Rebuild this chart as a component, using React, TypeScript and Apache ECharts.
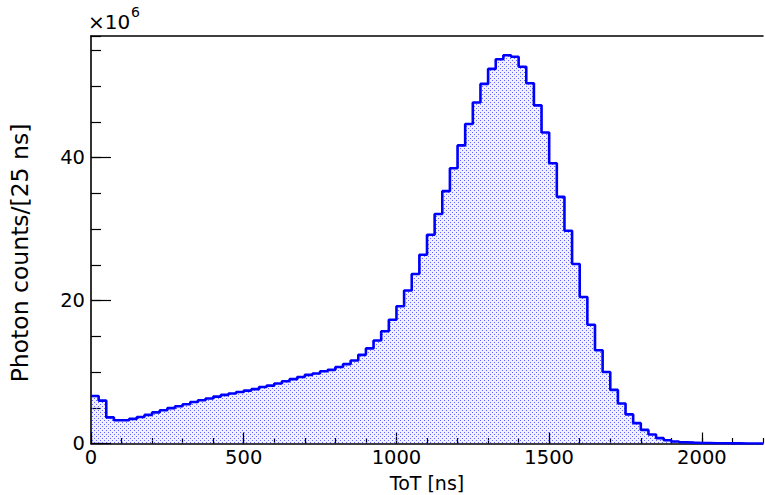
import React, { useEffect, useRef } from "react";
import * as echarts from "echarts";

const BIN_WIDTH = 25; // ns
const X_MAX = 2200;
const Y_MAX = 57;

// Photon counts per 25 ns bin, in units of 10^6
const binsLow = [6.65, 6.0, 3.65, 3.25, 3.25, 3.45, 3.7, 4.0, 4.35, 4.65, 4.95, 5.2, 5.5, 5.8, 6.05, 6.3];
const binsMid = [6.55, 6.8, 7.0, 7.2, 7.4, 7.6, 7.9, 8.1, 8.4, 8.7, 9.0, 9.3, 9.6, 9.8, 10.1, 10.3, 10.7, 11.1, 11.6, 12.4];
const binsRise = [13.3, 14.4, 15.7, 17.3, 19.2, 21.4, 23.7, 26.4, 29.2, 32.1, 35.3, 38.5];
const binsPeak = [41.7, 44.7, 47.7, 50.3, 52.4, 53.75, 54.3, 54.1, 52.7, 50.4, 47.3, 43.5];
const binsFall = [39.2, 34.5, 29.75, 25.1, 20.5, 16.6, 13.05, 10.0, 7.5, 5.6, 4.07, 2.85];
const binsTail = [1.9, 1.26, 0.75, 0.45, 0.28, 0.18, 0.12, 0.08, 0.06, 0.04, 0.03, 0.02, 0.015, 0.01, 0.01, 0.01];

const yTickLabels = [0, 20, 40];
const xTickLabels = [0, 500, 1000, 1500, 2000];

const TICK_FONT = "'DejaVu Sans', 'Liberation Sans', sans-serif";

function makePattern(): HTMLCanvasElement {
  const c = document.createElement("canvas");
  c.width = 4;
  c.height = 4;
  const ctx = c.getContext("2d")!;
  ctx.fillStyle = "rgba(0,0,255,0.06)";
  ctx.fillRect(0, 0, 4, 4);
  ctx.fillStyle = "rgba(80,80,255,0.9)";
  const pts = [
    [0, 0],
    [2, 2],
  ];
  pts.forEach(([x, y]) => ctx.fillRect(x, y, 1, 1));
  return c;
}

export default function App() {
  const ref = useRef<HTMLDivElement>(null);

  useEffect(() => {
    if (!ref.current) return;
    const chart = echarts.init(ref.current, undefined, { renderer: "svg" });
    const bins = [...binsLow, ...binsMid, ...binsRise, ...binsPeak, ...binsFall, ...binsTail];
    const stepData: number[][] = bins.map((v, i) => [i * BIN_WIDTH, v]);
    stepData.push([bins.length * BIN_WIDTH, bins[bins.length - 1]]);

    const grid = { left: 91, right: 2, top: 36, bottom: 51.5 };
    const axisLineStyle = { color: "#000", width: 1.6 };

    chart.setOption({
      animation: false,
      backgroundColor: "#fff",
      grid,
      xAxis: [
        {
          type: "value",
          min: 0,
          max: X_MAX,
          interval: 500,
          position: "bottom",
          axisLine: { show: true, onZero: false, lineStyle: axisLineStyle },
          axisTick: { show: true, inside: true, length: 11, lineStyle: { color: "#000", width: 1.2 } },
          axisLabel: {
            color: "#000",
            fontFamily: TICK_FONT,
            fontSize: 19.5,
            margin: 4,
            showMaxLabel: false,
            formatter: (v: number) => (xTickLabels.includes(v) ? String(v) : ""),
          },
          splitLine: { show: false },
        },
        {
          type: "value",
          min: 0,
          max: X_MAX,
          interval: 100,
          position: "bottom",
          axisLine: { show: false },
          axisTick: { show: true, inside: true, length: 5.5, lineStyle: { color: "#000", width: 1.2 } },
          axisLabel: { show: false },
          splitLine: { show: false },
        },
        {
          type: "value",
          min: 0,
          max: X_MAX,
          position: "top",
          axisLine: { show: true, onZero: false, lineStyle: axisLineStyle },
          axisTick: { show: false },
          axisLabel: { show: false },
          splitLine: { show: false },
        },
      ],
      yAxis: [
        {
          type: "value",
          min: 0,
          max: Y_MAX,
          interval: 20,
          position: "left",
          axisLine: { show: true, onZero: false, lineStyle: axisLineStyle },
          axisTick: { show: true, inside: true, length: 20, lineStyle: { color: "#000", width: 1.2 } },
          axisLabel: {
            color: "#000",
            fontFamily: TICK_FONT,
            fontSize: 19.5,
            margin: 6,
            showMaxLabel: false,
            formatter: (v: number) => (yTickLabels.includes(v) ? String(v) : ""),
          },
          splitLine: { show: false },
        },
        {
          type: "value",
          min: 0,
          max: Y_MAX,
          interval: 5,
          position: "left",
          axisLine: { show: false },
          axisTick: { show: true, inside: true, length: 10, lineStyle: { color: "#000", width: 1.2 } },
          axisLabel: { show: false },
          splitLine: { show: false },
        },
      ],
      series: [
        {
          type: "line",
          xAxisIndex: 0,
          yAxisIndex: 0,
          data: stepData,
          step: "end",
          symbol: "none",
          lineStyle: { color: "#0000ff", width: 2.6 },
          areaStyle: {
            origin: "start",
            color: { image: makePattern(), repeat: "repeat" },
            opacity: 1,
          },
          z: 1,
        },
      ],
      graphic: [
        {
          type: "text",
          left: 88,
          top: 12,
          style: { text: "×10", font: `20px ${TICK_FONT}`, fill: "#000" },
        },
        {
          type: "text",
          left: 131,
          top: 5,
          style: { text: "6", font: `14px ${TICK_FONT}`, fill: "#000" },
        },
        {
          type: "text",
          x: 20,
          y: 253,
          rotation: Math.PI / 2,
          style: {
            text: "Photon counts/[25 ns]",
            font: `23.5px ${TICK_FONT}`,
            fill: "#000",
            align: "center",
            verticalAlign: "middle",
          },
        },
        {
          type: "text",
          x: 427,
          y: 483,
          style: {
            text: "ToT [ns]",
            font: `19px ${TICK_FONT}`,
            fill: "#000",
            align: "center",
            verticalAlign: "middle",
          },
        },
      ],
    });

    return () => chart.dispose();
  }, []);

  return (
    <div
      ref={ref}
      style={{ position: "fixed", left: 0, top: 0, width: 765, height: 495, background: "#fff" }}
    />
  );
}
